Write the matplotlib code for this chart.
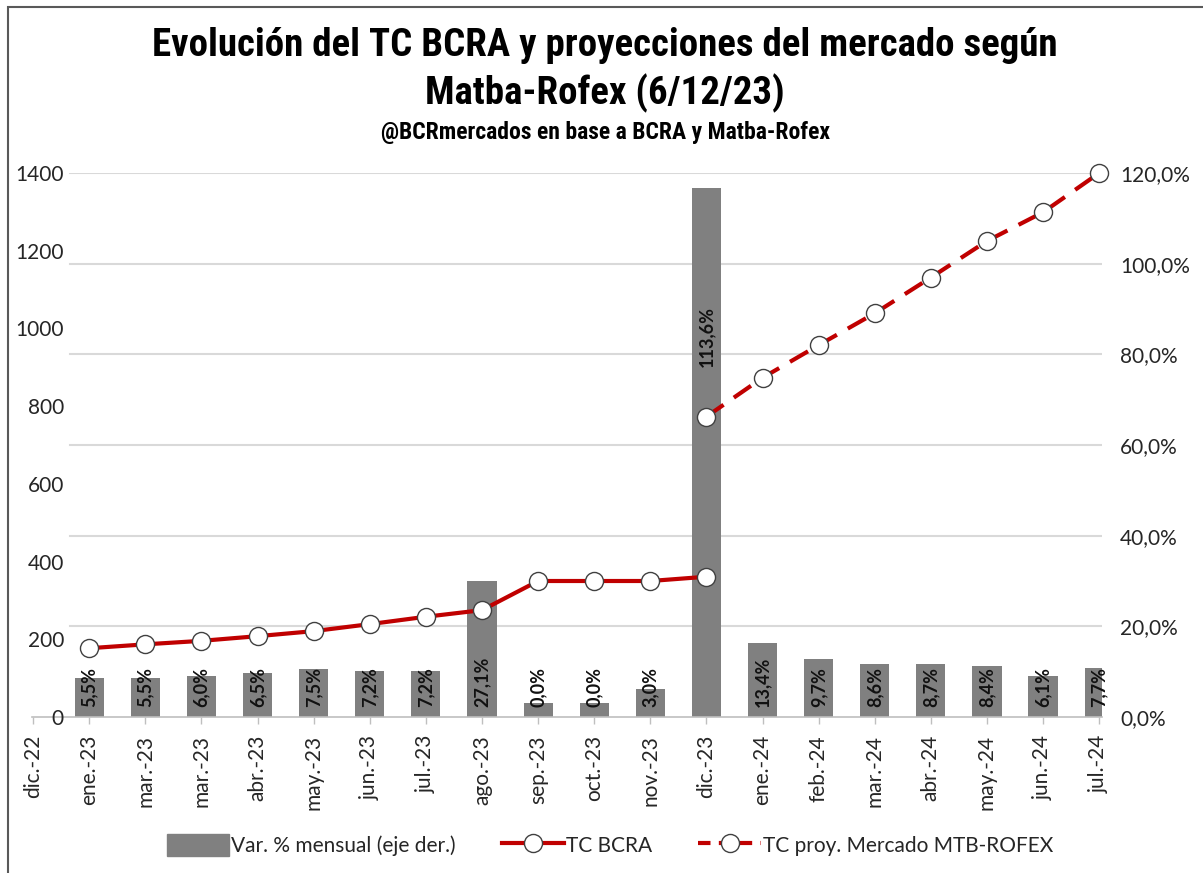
import matplotlib.pyplot as plt
from matplotlib import font_manager as fm
from matplotlib.patches import Patch, Rectangle
from matplotlib.lines import Line2D

# categorias del eje x (tal cual aparecen en el grafico)
meses = ["dic.-22", "ene.-23", "mar.-23", "mar.-23", "abr.-23", "may.-23", "jun.-23",
         "jul.-23", "ago.-23", "sep.-23", "oct.-23", "nov.-23", "dic.-23", "ene.-24",
         "feb.-24", "mar.-24", "abr.-24", "may.-24", "jun.-24", "jul.-24"]

# TC BCRA (ene.-23 .. dic.-23)
tc_bcra = [177, 187, 196, 208, 221, 239, 258, 275, 350, 350, 350, 361]
# TC proyectado Matba-Rofex (dic.-23 .. jul.-24)
tc_proy = [773, 873, 957, 1039, 1131, 1225, 1299, 1400]

# barras (eje der., %) tal como se ven dibujadas, y sus etiquetas
var_barras = [8.5, 8.5, 9.0, 9.6, 10.6, 10.2, 10.2, 30.1, 3.0, 3.0, 6.1, 116.6,
              16.4, 12.8, 11.6, 11.6, 11.3, 9.1, 10.7]
var_etiq = ["5,5%", "5,5%", "6,0%", "6,5%", "7,5%", "7,2%", "7,2%", "27,1%", "0,0%",
            "0,0%", "3,0%", "113,6%", "13,4%", "9,7%", "8,6%", "8,7%", "8,4%", "6,1%", "7,7%"]

left_ticks = [0, 200, 400, 600, 800, 1000, 1200, 1400]
right_ticks = [0, 20, 40, 60, 80, 100, 120]

ROJO = "#C00000"
GRIS = "#808080"
TXT = "#262626"
FONT = "Lato"

plt.rcParams["font.family"] = [FONT, "DejaVu Sans"]

# fuente angosta para el titulo (si hay alguna instalada)
names = sorted({f.name for f in fm.fontManager.ttflist})
tname = None
for pref in ["Liberation Sans Narrow", "Roboto Condensed", "DejaVu Sans Condensed",
             "Open Sans Condensed"]:
    if pref in names:
        tname = pref
        break
if tname is None:
    for n in names:
        if "Narrow" in n or "Condensed" in n:
            tname = n
            break
if tname is None:
    tname = "Roboto"
tfont = [tname, "DejaVu Sans"]

fig = plt.figure(figsize=(12.03, 8.73), dpi=100)
W, H = 1203, 873
x0, x1, y0, y1 = 32, 1102, 717, 173
ax2 = fig.add_axes([x0 / W, (H - y0) / H, (x1 - x0) / W, (y0 - y1) / H])
ax = ax2.twinx()
ax.set_zorder(ax2.get_zorder() + 1)
ax.patch.set_visible(False)

xb = list(range(1, len(meses)))
x_bcra = list(range(1, 1 + len(tc_bcra)))
x_proy = list(range(12, 12 + len(tc_proy)))

# ---- barras en eje derecho (ax2), lineas en eje izquierdo (ax)
ax2.set_ylim(0, 120)
ax2.set_xlim(-0.02, 19.05)
for t in right_ticks[1:]:
    ax2.plot([0.66, 19.05], [t, t], color="#d9d9d9", lw=1.5, zorder=0)
ax2.bar(xb, var_barras, width=0.52, color=GRIS, zorder=2)

for x, h, lab in zip(xb, var_barras, var_etiq):
    if h > 100:
        ax2.text(x, h * 0.72, lab, rotation=90, ha="center", va="center",
                 fontsize=13, fontweight="bold", color="#111111", zorder=3)
    else:
        ax2.text(x, 2.2, lab, rotation=90, ha="center", va="bottom",
                 fontsize=13, fontweight="bold", color="#111111", zorder=3)

ax.set_ylim(0, 1400)
ax.plot(x_bcra, tc_bcra, color=ROJO, lw=3, marker="o", ms=13, mfc="white",
        mec="#404040", mew=1, clip_on=False, zorder=4)
ax.plot(x_proy, tc_proy, color=ROJO, lw=3, ls=(0, (5, 3)), marker="o", ms=13,
        mfc="white", mec="#404040", mew=1, clip_on=False, zorder=4)

# ---- ejes: izquierda = TC, derecha = %
ax.yaxis.tick_left()
ax2.yaxis.tick_right()
ax.set_yticks(left_ticks)
ax.set_yticklabels([str(v) for v in left_ticks])
ax.tick_params(axis="y", length=0, pad=-23, labelsize=15, labelcolor=TXT)
ax2.set_yticks(right_ticks)
ax2.set_yticklabels([f"{v},0%" for v in right_ticks])
ax2.tick_params(axis="y", length=0, pad=13, labelsize=15, labelcolor=TXT)

ax2.set_xticks(range(len(meses)))
ax2.set_xticklabels(meses, rotation=90, fontsize=15, color=TXT)
ax2.tick_params(axis="x", length=5, width=1, color="#bfbfbf", pad=8)
ax.tick_params(axis="x", length=0)

for a in (ax, ax2):
    for s in a.spines.values():
        s.set_visible(False)
ax2.spines["bottom"].set_visible(True)
ax2.spines["bottom"].set_color("#bfbfbf")
ax2.spines["bottom"].set_linewidth(1.2)

# ---- titulos (ajustados al ancho del original)
t1 = fig.text(0.503, 1 - 45 / H, "Evolución del TC BCRA y proyecciones del mercado según",
              ha="center", va="center", fontsize=28, fontweight="heavy", family=tfont,
              color="black")
t2 = fig.text(0.503, 1 - 93 / H, "Matba-Rofex (6/12/23)", ha="center", va="center",
              fontsize=28, fontweight="heavy", family=tfont, color="black")
t3 = fig.text(0.503, 1 - 133 / H, "@BCRmercados en base a BCRA y Matba-Rofex", ha="center",
              va="center", fontsize=17, fontweight="heavy", family=tfont, color="black")
fig.canvas.draw()
r = fig.canvas.get_renderer()
w1 = t1.get_window_extent(r).width
k = min(1.0, 910 / w1)
t1.set_fontsize(28 * k)
t2.set_fontsize(28 * k)
w3 = t3.get_window_extent(r).width
t3.set_fontsize(17 * min(1.0, 505 / w3))

# ---- leyenda
handles = [
    Patch(facecolor=GRIS, edgecolor=GRIS),
    Line2D([], [], color=ROJO, lw=3, marker="o", ms=13, mfc="white", mec="#404040"),
    Line2D([], [], color=ROJO, lw=3, ls=(0, (3, 2)), marker="o", ms=13, mfc="white", mec="#404040"),
]
labels = ["Var. % mensual (eje der.)", "TC BCRA", "TC proy. Mercado MTB-ROFEX"]
fig.legend(handles, labels, loc="center", bbox_to_anchor=(0.507, 1 - 845 / H), ncol=3,
           frameon=False, fontsize=15, handlelength=3.0, handleheight=1.3,
           columnspacing=2.2, handletextpad=0.1, labelcolor=TXT)

# ---- marco del grafico
fig.patches.append(Rectangle((8 / W, -0.1), 1.2, 1 - 7 / H + 0.1, transform=fig.transFigure,
                             fill=False, edgecolor="#595959", lw=1.5))

fig.savefig("out.png", dpi=100)
